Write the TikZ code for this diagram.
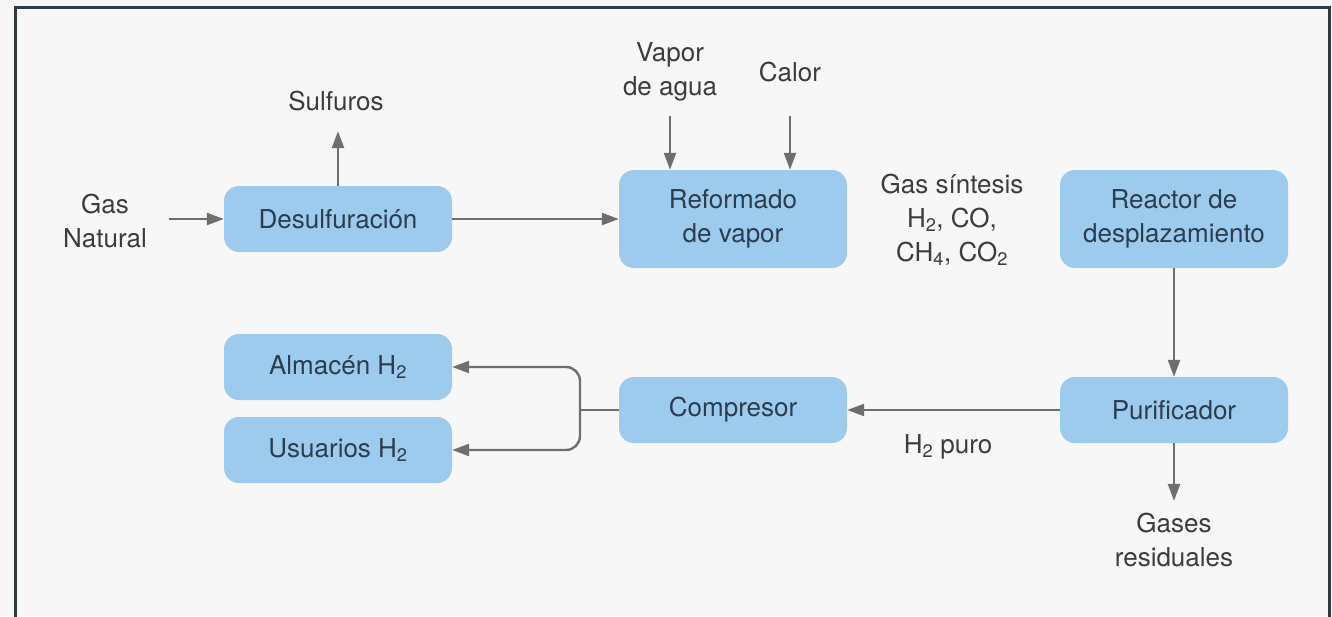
\documentclass[tikz,border=0pt]{standalone}
\usepackage{fontspec}
\setmainfont{TeX Gyre Heros}
\usetikzlibrary{arrows.meta}
\definecolor{boxblue}{HTML}{9DCBEE}
\definecolor{boxtext}{HTML}{2B3D4F}
\definecolor{labtext}{HTML}{3C3C3C}
\definecolor{arrgray}{HTML}{6E6E6E}
\definecolor{bg}{HTML}{F7F7F7}
\definecolor{framec}{HTML}{2F3B43}
\tikzset{
  procbox/.style={fill=boxblue, rounded corners=15pt, minimum width=228pt, text=boxtext, align=center, inner sep=0pt, font=\fontsize{26}{34}\selectfont},
  smallbox/.style={procbox, minimum height=66pt},
  tallbox/.style={procbox, minimum height=98pt},
  lab/.style={text=labtext, align=center, inner sep=0pt, font=\fontsize{26}{34}\selectfont},
  arr/.style={draw=arrgray, line width=2.4pt, -{Triangle[length=17pt,width=12pt]}},
  plain/.style={draw=arrgray, line width=2.4pt}
}
\begin{document}
\begin{tikzpicture}[x=1pt,y=-1pt]
\useasboundingbox (0,0) rectangle (1332,616);
\clip (0,0) rectangle (1332,616);
\fill[bg] (0,0) rectangle (1332,616);
\draw[framec, line width=3pt] (15,7) rectangle (1329,640);

% process boxes
\node[smallbox] (desul) at (338,219) {Desulfuración};
\node[tallbox] (ref) at (733,219) {Reformado\\de vapor};
\node[tallbox] (reac) at (1174,219) {Reactor de\\desplazamiento};
\node[smallbox] (pur) at (1174,410) {Purificador};
\node[smallbox] (comp) at (733,410) {Compresor};
\node[smallbox] (alm) at (338,367) {Almacén H\textsubscript{2}};
\node[smallbox] (usu) at (338,450) {Usuarios H\textsubscript{2}};

% labels
\node[lab] (gas) at (105,221) {Gas\\Natural};
\node[lab] (sulf) at (336,101) {Sulfuros};
\node[lab] (vapor) at (670,72) {Vapor\\de agua};
\node[lab] (calor) at (790,72) {Calor};
\node[lab] (syn) at (952,220) {Gas síntesis\\H\textsubscript{2}, CO,\\CH\textsubscript{4}, CO\textsubscript{2}};
\node[lab] (h2p) at (948,447) {H\textsubscript{2} puro};
\node[lab] (res) at (1174,540) {Gases\\residuales};

% connectors
\draw[arr, shorten <=22pt] (gas.east |- desul.west) -- (desul.west);
\draw[arr, shorten >=20pt] (desul.north) -- (desul.north |- sulf.south);
\draw[arr] (desul.east) -- (ref.west);
\draw[arr, shorten <=14pt] (vapor.south) -- (vapor.south |- ref.north);
\draw[arr, shorten <=14pt] (calor.south |- vapor.south) -- (calor.south |- ref.north);
\draw[arr] (reac.south) -- (pur.north);
\draw[arr, shorten >=12pt] (pur.south) -- (res.north);
\draw[arr] (pur.west) -- (comp.east);
\coordinate (split) at (580,410);
\draw[plain] (comp.west) -- (split);
\draw[arr, rounded corners=14pt] (split) |- (alm.east);
\draw[arr, rounded corners=14pt] (split) |- (usu.east);
\end{tikzpicture}
\end{document}
